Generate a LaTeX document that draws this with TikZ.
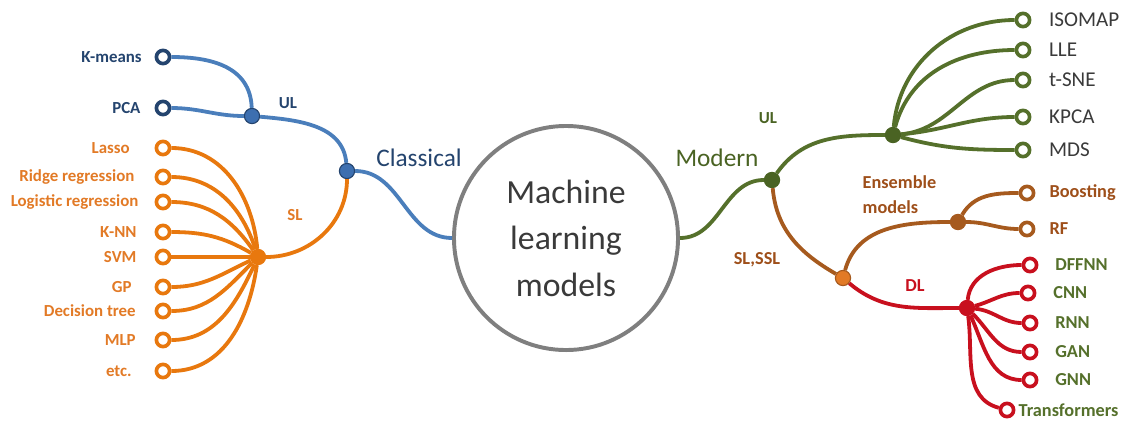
\documentclass[tikz,border=0pt]{standalone}
\usepackage{fontspec}
\setmainfont{Carlito}
\usetikzlibrary{calc,positioning}

\definecolor{cblue}{HTML}{4A7EBB}
\definecolor{cnavy}{HTML}{24446E}
\definecolor{chub}{HTML}{3D6FB0}
\definecolor{corange}{HTML}{E8780E}
\definecolor{ctorange}{HTML}{E27A26}
\definecolor{cgreen}{HTML}{55702B}
\definecolor{cdgreen}{HTML}{4A6323}
\definecolor{cbrown}{HTML}{A65A1E}
\definecolor{ctbrown}{HTML}{9E4F1A}
\definecolor{cred}{HTML}{C8101E}
\definecolor{cgray}{HTML}{7F7F7F}
\definecolor{ctext}{HTML}{3A3A3A}

\tikzset{
  leaf/.style={circle, draw=#1, fill=white, line width=2.6pt, inner sep=0pt, minimum size=0.33cm},
  hub/.style={circle, fill=#1, line width=0.8pt, inner sep=0pt, minimum size=0.38cm},
  branch/.style={draw=#1, line width=2.7pt},
  lbl/.style={inner sep=1pt, font=\fontsize{12}{14}\selectfont\bfseries},
  rlbl/.style={inner sep=1pt, font=\fontsize{13}{15}\selectfont\bfseries},
}

\begin{document}
\begin{tikzpicture}[x=0.025cm, y=-0.025cm]
\useasboundingbox (0,0) rectangle (1130,422);

\node[circle, draw=cgray, line width=2.8pt, minimum size=5.6cm, align=center,
  text=ctext, font=\fontsize{24}{33}\selectfont] (ml) at (566,238) {Machine\\learning\\models};

\node[hub=chub, draw=cnavy] (ulc) at (252,116) {};
\node[hub=chub, draw=cnavy] (cls) at (347,171) {};
\node[hub=corange, draw=corange] (slc) at (258,257) {};
\node[hub=cdgreen, draw=cdgreen] (mod) at (772,180) {};
\node[hub=cdgreen, draw=cdgreen] (ulm) at (893,135) {};
\node[hub=ctorange, draw=cbrown] (ssl) at (843,278) {};
\node[hub=cbrown, draw=cbrown] (ens) at (958,222) {};
\node[hub=cred, draw=cred] (dl) at (967,308) {};

\node[leaf=cnavy] (km) at (163,57) {};
\node[leaf=cnavy] (pca) at (163,108) {};
\node[leaf=corange] (lasso) at (163,148) {};
\node[leaf=corange] (ridge) at (163,177) {};
\node[leaf=corange] (logit) at (163,202) {};
\node[leaf=corange] (knn) at (163,232) {};
\node[leaf=corange] (svm) at (163,257) {};
\node[leaf=corange] (gp) at (163,287) {};
\node[leaf=corange] (dtree) at (163,311) {};
\node[leaf=corange] (mlp) at (163,340) {};
\node[leaf=corange] (etc) at (163,371) {};

\node[leaf=cgreen] (iso) at (1023,20) {};
\node[leaf=cgreen] (lle) at (1023,50) {};
\node[leaf=cgreen] (tsne) at (1023,80) {};
\node[leaf=cgreen] (kpca) at (1023,117) {};
\node[leaf=cgreen] (mds) at (1023,150) {};
\node[leaf=cbrown] (boost) at (1027,193) {};
\node[leaf=cbrown] (rf) at (1027,229) {};
\node[leaf=cred] (dffnn) at (1030,265) {};
\node[leaf=cred] (cnn) at (1028,293) {};
\node[leaf=cred] (rnn) at (1030,323) {};
\node[leaf=cred] (gan) at (1030,352) {};
\node[leaf=cred] (gnn) at (1030,380) {};
\node[leaf=cred] (trans) at (1007,410) {};

\node[lbl, text=cnavy, left=0.28cm of km] (tkm) {K-means};
\node[lbl, text=cnavy, left=0.31cm of pca] (tpca) {PCA};
\node[lbl, text=ctorange, left=0.58cm of lasso] (tlasso) {Lasso};
\node[lbl, text=ctorange, left=0.46cm of ridge] (tridge) {Ridge regression};
\node[lbl, text=ctorange, left=0.36cm of logit] (tlogit) {Logistic regression};
\node[lbl, text=ctorange, left=0.41cm of knn] (tknn) {K-NN};
\node[lbl, text=ctorange, left=0.41cm of svm] (tsvm) {SVM};
\node[lbl, text=ctorange, left=0.53cm of gp] (tgp) {GP};
\node[lbl, text=ctorange, left=0.43cm of dtree] (tdtree) {Decision tree};
\node[lbl, text=ctorange, left=0.43cm of mlp] (tmlp) {MLP};
\node[lbl, text=ctorange, left=0.53cm of etc] (tetc) {etc.};

\node[inner sep=1pt, text=ctext, font=\fontsize{15}{17}\selectfont, right=0.4cm of iso] (tiso) {ISOMAP};
\node[inner sep=1pt, text=ctext, font=\fontsize{15}{17}\selectfont, right=0.4cm of lle] (tlle) {LLE};
\node[inner sep=1pt, text=ctext, font=\fontsize{15}{17}\selectfont, right=0.4cm of tsne] (ttsne) {t-SNE};
\node[inner sep=1pt, text=ctext, font=\fontsize{15}{17}\selectfont, right=0.4cm of kpca] (tkpca) {KPCA};
\node[inner sep=1pt, text=ctext, font=\fontsize{15}{17}\selectfont, right=0.4cm of mds] (tmds) {MDS};
\node[rlbl, text=ctbrown, right=0.31cm of boost] (tboost) {Boosting};
\node[rlbl, text=ctbrown, right=0.31cm of rf] (trf) {RF};
\node[rlbl, text=cgreen, right=0.38cm of dffnn] (tdffnn) {DFFNN};
\node[rlbl, text=cgreen, right=0.38cm of cnn] (tcnn) {CNN};
\node[rlbl, text=cgreen, right=0.38cm of rnn] (trnn) {RNN};
\node[rlbl, text=cgreen, right=0.38cm of gan] (tgan) {GAN};
\node[rlbl, text=cgreen, right=0.38cm of gnn] (tgnn) {GNN};
\node[rlbl, text=cgreen, right=0.04cm of trans] (ttrans) {Transformers};

\node[lbl, text=cnavy] (tulc) at (288,103) {UL};
\node[lbl, text=ctorange] (tslc) at (295,215) {SL};
\node[text=cnavy, font=\fontsize{18}{20}\selectfont] (tcls) at (419,158) {Classical};
\node[text=cdgreen, font=\fontsize{18}{20}\selectfont] (tmod) at (717,158) {Modern};
\node[lbl, text=cdgreen] (tulm) at (768,118) {UL};
\node[rlbl, text=ctbrown] (tssl) at (757,260) {SL,SSL};
\node[rlbl, text=ctbrown, align=left, anchor=west, font=\fontsize{13}{17.7}\selectfont\bfseries] (tens) at (861,195) {Ensemble\\models};
\node[rlbl, text=cred] (tdl) at (915,286) {DL};

\draw[branch=cblue] (km) to[out=0, in=92, looseness=1.1] (ulc);
\draw[branch=cblue] (pca) to[out=0, in=180] (ulc);
\draw[branch=cblue] (ulc) to[out=-5, in=95] (cls);
\draw[branch=cblue] (cls) to[out=0, in=180] (ml);
\draw[branch=corange] (slc) to[out=0, in=-90] (cls);

\draw[branch=corange] (lasso) to[out=0, in=95] (slc);
\draw[branch=corange] (ridge) to[out=0, in=108] (slc);
\draw[branch=corange] (logit) to[out=0, in=125] (slc);
\draw[branch=corange] (knn) to[out=0, in=150] (slc);
\draw[branch=corange] (svm) to (slc);
\draw[branch=corange] (gp) to[out=0, in=205] (slc);
\draw[branch=corange] (dtree) to[out=0, in=225] (slc);
\draw[branch=corange] (mlp) to[out=0, in=245] (slc);
\draw[branch=corange] (etc) to[out=0, in=262] (slc);

\draw[branch=cgreen] (ml) to[out=0, in=180] (mod);
\draw[branch=cgreen] (mod) to[out=55, in=180] (ulm);
\draw[branch=cgreen] (ulm) to[out=85, in=180] (iso);
\draw[branch=cgreen] (ulm) to[out=75, in=180] (lle);
\draw[branch=cgreen] (ulm) to[out=5, in=180] (tsne);
\draw[branch=cgreen] (ulm) to[out=5, in=180] (kpca);
\draw[branch=cgreen] (ulm) to[out=-15, in=180] (mds);

\draw[branch=cbrown] (mod) to[out=-85, in=150] (ssl);
\draw[branch=cbrown] (ssl) to[out=75, in=180] (ens);
\draw[branch=cbrown] (ens) to[out=60, in=180] (boost);
\draw[branch=cbrown] (ens) to[out=0, in=180] (rf);

\draw[branch=cred] (ssl) to[out=-40, in=180] (dl);
\draw[branch=cred] (dl) to[out=85, in=180] (dffnn);
\draw[branch=cred] (dl) to[out=15, in=180] (cnn);
\draw[branch=cred] (dl) to[out=-5, in=180] (rnn);
\draw[branch=cred] (dl) to[out=-45, in=180] (gan);
\draw[branch=cred] (dl) to[out=-65, in=180] (gnn);
\draw[branch=cred] (dl) to[out=-82, in=165] (trans);
\end{tikzpicture}
\end{document}
